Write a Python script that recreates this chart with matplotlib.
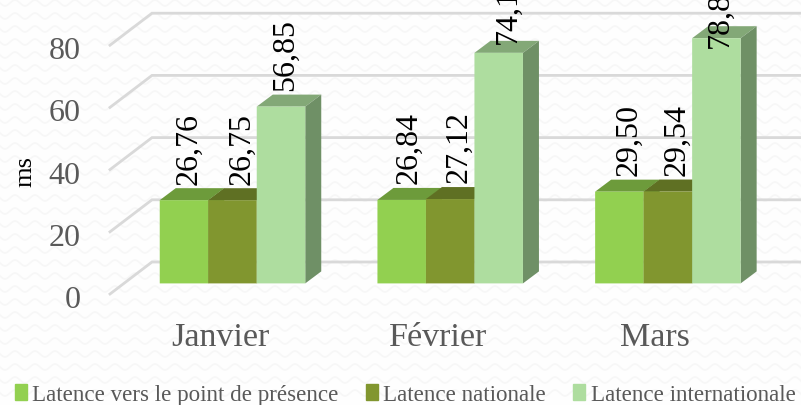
import numpy as np
import matplotlib
matplotlib.use("Agg")
import matplotlib.pyplot as plt
from matplotlib.patches import Polygon, Patch
from matplotlib.transforms import ScaledTranslation

months = ["Janvier", "Février", "Mars"]
series_names = ["Latence vers le point de présence", "Latence nationale", "Latence internationale"]
presence = [26.76, 26.84, 29.50]
nationale = [26.75, 27.12, 29.54]
internationale = [56.85, 74.13, 78.84]
y_ticks = [0, 20, 40, 60, 80]

# styles
front_colors = ["#92D050", "#81962F", "#AEDD9F"]
top_colors = ["#6D9B3B", "#5F7023", "#83A877"]
side_colors = ["#6D9B3B", "#5F7023", "#6F9066"]
label_dx_px = [[1, 3, 6], [5, 5, 5], [0, 6, 0]]
label_dy_px = [[0, 0, 0], [0, 0, 0], [0, 2, -2]]

W, H = 801, 406
plt.rcParams["font.family"] = "Liberation Serif"
fig = plt.figure(figsize=(W / 100, H / 100), dpi=100, facecolor="#FEFEFE")

# faint wavy texture of the slide background
bg = fig.add_axes([0, 0, 1, 1], zorder=0)
bg.set_xlim(0, W)
bg.set_ylim(H, 0)
bg.axis("off")
wx = np.arange(0, W + 1, 1.0)
for row in np.arange(4, H, 13.0):
    bg.plot(wx, row + 3.0 * np.sin(wx * 2 * np.pi / 20.0), color="#F7F7F7", lw=1.2)

ax = fig.add_axes([110 / W, (H - 295) / H, (W - 110) / W, 295 / H], zorder=1)
ax.patch.set_alpha(0)
PX_Y = 3.11          # pixels per ms
PX_X = 217.7         # pixels per category
ax.set_xlim((110 - 232.5) / PX_X, (801 - 232.5) / PX_X)
ax.set_ylim(0, 295 / PX_Y)
for s in ax.spines.values():
    s.set_visible(False)

bw = 48.5 / PX_X
dx = 16 / PX_X
dy = 12 / PX_Y
base = 10.6 / PX_Y
wall_dx = 42 / PX_X
wall_dy = 32 / PX_Y
left, right = ax.get_xlim()

# back wall grid lines and the slanted part on the left side
for t in y_ticks:
    ax.plot([left, left + wall_dx, right], [t, t + wall_dy, t + wall_dy],
            color="#D9D9D9", lw=2, zorder=1, clip_on=False, solid_joinstyle="miter")

x = np.arange(len(months))
all_series = [presence, nationale, internationale]
for i, (vals, fc, tc, sc) in enumerate(zip(all_series, front_colors, top_colors, side_colors)):
    xpos = x + (i - 1) * bw
    ax.bar(xpos, vals, width=bw, bottom=base, color=fc, zorder=3 + i * 0.1, linewidth=0, snap=False)
    for xp, v in zip(xpos, vals):
        l, r = xp - bw / 2, xp + bw / 2
        t = base + v
        ax.add_patch(Polygon([(l, t), (r, t), (r + dx, t + dy), (l + dx, t + dy)],
                             closed=True, fc=tc, lw=0, zorder=2.5 + i * 0.1))
        ax.add_patch(Polygon([(r, base), (r + dx, base + dy), (r + dx, t + dy), (r, t)],
                             closed=True, fc=sc, lw=0, zorder=2.5 + i * 0.1))

# data labels, rotated
for i, vals in enumerate(all_series):
    for j, v in enumerate(vals):
        xp = x[j] + (i - 1) * bw + (4 + label_dx_px[i][j]) / PX_X
        yp = base + min(v + dy + 1.5, 76.5) + label_dy_px[i][j] / PX_Y
        ax.text(xp, yp, f"{v:.2f}".replace(".", ","), rotation=90, ha="center", va="bottom",
                fontsize=23, color="black", zorder=6, clip_on=False)

ax.set_yticks(y_ticks)
ax.set_yticklabels([str(t) for t in y_ticks], fontsize=23, color="#595959")
ax.set_xticks(x - 12.5 / PX_X)
ax.set_xticklabels(months, fontsize=24.5, color="#595959")
ax.tick_params(axis="both", length=0)
ax.tick_params(axis="y", pad=21)
ax.tick_params(axis="x", pad=20)
shift = ScaledTranslation(0, -2 / 100, fig.dpi_scale_trans)
for lab in ax.get_yticklabels():
    lab.set_transform(lab.get_transform() + shift)
ax.set_ylabel("ms", fontsize=19, color="black")
ax.yaxis.set_label_coords(-74 / (W - 110), 0.42)

handles = [Patch(color=c, label=n) for c, n in zip(front_colors, series_names)]
fig.legend(handles=handles, loc="lower left", bbox_to_anchor=(-1 / W, -16 / H), ncol=3, frameon=False,
           prop={"size": 16.6}, labelcolor="#595959",
           handlelength=0.5, handleheight=0.7, handletextpad=0.25, columnspacing=1.18, borderpad=0.2)

fig.savefig("out.png", dpi=100, facecolor=fig.get_facecolor())
